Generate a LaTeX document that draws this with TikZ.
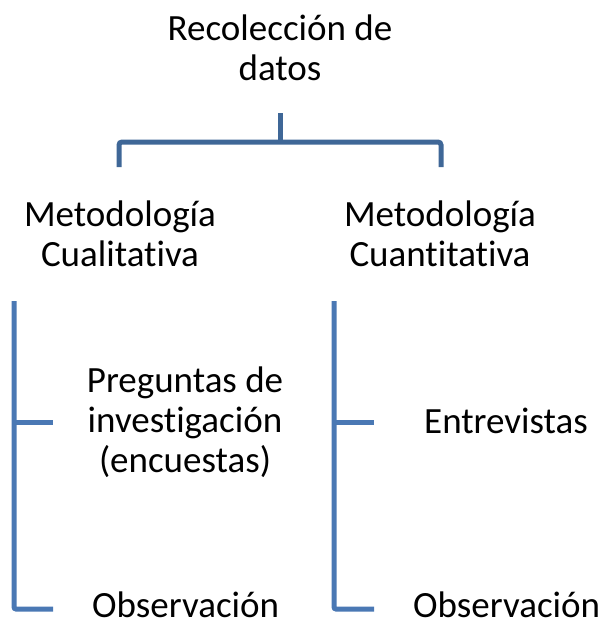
\documentclass[tikz,border=0pt]{standalone}
\usepackage{fontspec}
\setmainfont[Ligatures=NoCommon]{Carlito}
\usetikzlibrary{positioning}
\definecolor{bracketblue}{HTML}{3F6797}
\definecolor{lineblue}{HTML}{4A78B4}
\tikzset{
  label text/.style={font=\fontsize{37}{40}\selectfont, align=center, inner sep=0pt},
  bracket/.style={bracketblue, line width=5pt, rounded corners=3pt},
  branch/.style={lineblue, line width=5pt, rounded corners=2pt}
}

\begin{document}
\begin{tikzpicture}[x=1pt, y=-1pt]
    \useasboundingbox (0, 0) rectangle (603, 624);
    \node[label text] (root) at (280, 48) {Recolección de\\datos};
    \node[label text] (cual) at (120, 234) {Metodología\\Cualitativa};
    \node[label text] (cuan) at (440, 234) {Metodología\\Cuantitativa};
    \node[label text] (preg) at (185, 422) {Preguntas de\\investigación\\(encuestas)};
    \node[label text, anchor=base west] (entr) at (424, 433) {Entrevistas};
    \node[label text, anchor=base west] (obs1) at (92, 617) {Observación};
    \node[label text, anchor=base west] (obs2) at (413, 617) {Observación};
    % top bracket
    \coordinate (stem) at (280, 113);
    \coordinate (legl) at (119, 167);
    \coordinate (legr) at (441, 167);
    \draw[bracket] (stem) -- (280, 142);
    \draw[bracket] (legl) |- (280, 142) -| (legr);
    % left branch
    \coordinate (topl) at (14, 301);
    \coordinate (tickl) at (53, 422);
    \coordinate (endl) at (53, 609);
    \draw[branch] (topl) |- (endl);
    \draw[branch] (14, 422) -- (tickl);
    % right branch
    \coordinate (topr) at (334, 301);
    \coordinate (tickr) at (374, 422);
    \coordinate (endr) at (374, 609);
    \draw[branch] (topr) |- (endr);
    \draw[branch] (334, 422) -- (tickr);
\end{tikzpicture}
\end{document}
